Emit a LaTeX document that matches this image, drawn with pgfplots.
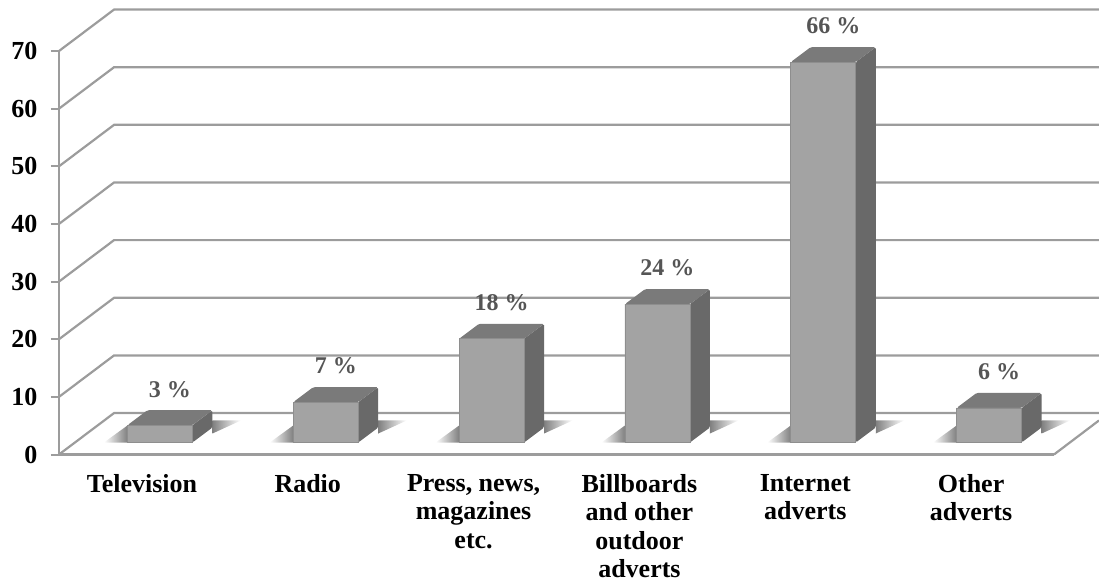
\documentclass[border=0pt]{standalone}
\usepackage{fontspec}
\setmainfont{Liberation Serif}
\usepackage{pgfplots}
\usepackage{pgfplotstable}
\pgfplotsset{compat=1.18}

\definecolor{wall}{HTML}{9C9C9C}
\definecolor{barfront}{HTML}{A3A3A3}
\definecolor{baredge}{HTML}{8E8E8E}
\definecolor{bartop}{HTML}{7A7A7A}
\definecolor{barside}{HTML}{696969}
\definecolor{lab}{HTML}{555555}

% 1pt = 1 reference pixel; bars stand 18 right and 12 up of the front plane
\pgfplotstableread{
x v
0 3
1 7
2 18
3 24
4 66
5 6
}\bardata

\newcommand{\gridline}[2]{\addplot[wall,line width=2.2pt,forget plot] coordinates {(-0.5,#1) (-0.168,#2) (5.77,#2)};}
% side and top of a bar: xR xB xL xl ytop yback
\newcommand{\barfaces}[6]{%
  \addplot[fill=barside,draw=none,rounded corners=1.5pt,forget plot] coordinates {(#1,#5) (#2,#6) (#2,4.68) (#1,2.08)} -- cycle;
  \addplot[fill=bartop,draw=none,rounded corners=1.5pt,forget plot] coordinates {(#3,#5) (#1,#5) (#2,#6) (#4,#6)} -- cycle;
}
% floor shadow: far left, bar left, bar back right, far right
\newcommand{\barshadow}[4]{%
  \addplot[left color=white,right color=black!50,draw=none,forget plot] coordinates {(#1,2.08) (#2,2.08) (#2,5.03)} -- cycle;
  \addplot[left color=black!50,right color=white,draw=none,forget plot] coordinates {(#3,3.64) (#3,5.90) (#4,5.90)} -- cycle;
}

\begin{document}
\begin{tikzpicture}
\path[use as bounding box,clip] (-59pt,-126.5pt) rectangle (1040pt,454.5pt);
\begin{axis}[
  at={(0,0)}, anchor=south west,
  scale only axis, width=995pt, height=403.5pt,
  clip=false,
  xmin=-0.5, xmax=5.5, ymin=0, ymax=70,
  axis x line=bottom, axis y line=left,
  axis line style={wall,line width=2.2pt,-},
  xtick={0,1,2,3,4,5},
  xticklabels={Television,Radio,{Press, news,\\magazines\\etc.},{Billboards\\and other\\outdoor\\adverts},{Internet\\adverts},{Other\\adverts}},
  x tick style={draw=none},
  xticklabel style={align=center,anchor=north,yshift=-8pt,
    font=\fontsize{26}{28.5}\selectfont\bfseries},
  ytick={0,10,20,30,40,50,60,70},
  y tick style={wall,line width=2pt},
  tick align=outside, major tick length=8pt,
  yticklabel style={font=\fontsize{26}{28}\selectfont\bfseries,xshift=-10pt,
    /pgf/number format/assume math mode=true},
]
% back wall and floor
\gridline{10}{17.19}
\gridline{20}{27.19}
\gridline{30}{37.19}
\gridline{40}{47.19}
\gridline{50}{57.19}
\gridline{60}{67.19}
\gridline{70}{77.19}
\gridline{0}{7.19}
\addplot[wall,line width=2.2pt,forget plot] coordinates {(5.5,0) (5.771,5.9)};

\barshadow{-0.229}{-0.0874}{0.4251}{0.597}
\barshadow{0.771}{0.9126}{1.4251}{1.597}
\barshadow{1.771}{1.9126}{2.4251}{2.597}
\barshadow{2.771}{2.9126}{3.4251}{3.597}
\barshadow{3.771}{3.9126}{4.4251}{4.597}
\barshadow{4.771}{4.9126}{5.4251}{5.597}

\barfaces{0.3045}{0.4251}{-0.0874}{0.0332}{5.08}{7.68}
\barfaces{1.3045}{1.4251}{0.9126}{1.0332}{9.08}{11.68}
\barfaces{2.3045}{2.4251}{1.9126}{2.0332}{20.08}{22.68}
\barfaces{3.3045}{3.4251}{2.9126}{3.0332}{26.08}{28.68}
\barfaces{4.3045}{4.4251}{3.9126}{4.0332}{68.08}{70.68}
\barfaces{5.3045}{5.4251}{4.9126}{5.0332}{8.08}{10.68}

\addplot[ybar,bar width=65pt,fill=barfront,draw=baredge,line width=0.8pt,
  xshift=18pt,yshift=12pt,
  nodes near coords={\pgfmathprintnumber[assume math mode=true]{\pgfplotspointmeta}\ \%},
  point meta=y,
  every node near coord/.append style={anchor=center,text=lab,
    font=\fontsize{24}{28}\selectfont\bfseries,xshift=10pt,yshift=36pt}
  ] table[x=x,y=v] {\bardata};
\end{axis}
\end{tikzpicture}
\end{document}
